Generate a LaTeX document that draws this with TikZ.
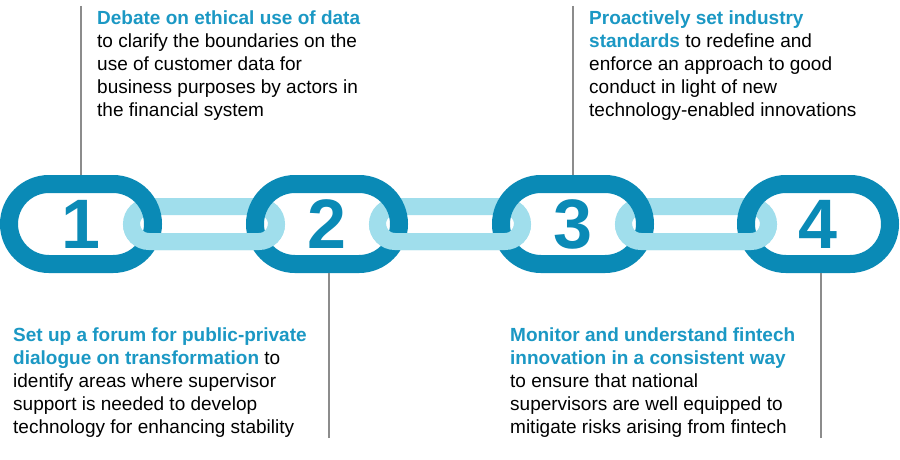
\documentclass[tikz,border=0pt]{standalone}
\usepackage{fontspec}
\setmainfont{Liberation Sans}
\usepackage{tikz}
\usetikzlibrary{shapes.misc}
\usepackage{xcolor}
\definecolor{cdark}{HTML}{0A8AB6}
\definecolor{clight}{HTML}{A0DEEC}
\definecolor{ctitle}{HTML}{1B98C4}
\definecolor{cstem}{HTML}{8C8C8C}
\newcommand{\keytxt}[1]{\textcolor{ctitle}{\textbf{#1}}}

\begin{document}
\begin{tikzpicture}[x=1pt,y=-1pt,
    darklink/.style={rounded rectangle, draw=cdark, line width=18pt, minimum width=144pt, minimum height=80pt, inner sep=0pt, text=cdark, font=\fontsize{70}{70}\selectfont\bfseries},
    lightlink/.style={draw=clight, line width=17pt, rounded corners=17.5pt},
    stem/.style={draw=cstem, line width=1.5pt},
    blurb/.style={anchor=north west, inner sep=0pt, align=left, font=\fontsize{19}{23}\selectfont}]
  \useasboundingbox[fill=white] (0,0) rectangle (900,460);
  \draw[lightlink] (131.5,206.5) rectangle (276.5,241.5);
  \draw[lightlink] (377.5,206.5) rectangle (522.5,241.5);
  \draw[lightlink] (623.5,206.5) rectangle (768.5,241.5);
  \node[darklink] (l1) at (81,224) {1};
  \node[darklink] (l2) at (327,224) {2};
  \node[darklink] (l3) at (573,224) {3};
  \node[darklink] (l4) at (818,224) {4};
  \begin{scope}
    \clip (0,224) rectangle (900,460);
    \draw[lightlink] (131.5,206.5) rectangle (276.5,241.5);
    \draw[lightlink] (377.5,206.5) rectangle (522.5,241.5);
    \draw[lightlink] (623.5,206.5) rectangle (768.5,241.5);
  \end{scope}
  \coordinate (s1) at (81,6);
  \coordinate (s2) at (329,438);
  \coordinate (s3) at (573,6);
  \coordinate (s4) at (821,438);
  \draw[stem] (s1) -- (s1 |- l1.north);
  \draw[stem] (s2) -- (s2 |- l2.south);
  \draw[stem] (s3) -- (s3 |- l3.north);
  \draw[stem] (s4) -- (s4 |- l4.south);
  \node[blurb] (t1) at (97,11) {\keytxt{Debate on ethical use of data}\\to clarify the boundaries on the\\use of customer data for\\business purposes by actors in\\the financial system};
  \node[blurb] (t3) at (589,11) {\keytxt{Proactively set industry}\\\keytxt{standards} to redefine and\\enforce an approach to good\\conduct in light of new\\technology-enabled innovations};
  \node[blurb] (t2) at (13,328) {\keytxt{Set up a forum for public-private}\\\keytxt{dialogue on transformation} to\\identify areas where supervisor\\support is needed to develop\\technology for enhancing stability};
  \node[blurb] (t4) at (510,328) {\keytxt{Monitor and understand fintech}\\\keytxt{innovation in a consistent way}\\to ensure that national\\supervisors are well equipped to\\mitigate risks arising from fintech};
\end{tikzpicture}
\end{document}
